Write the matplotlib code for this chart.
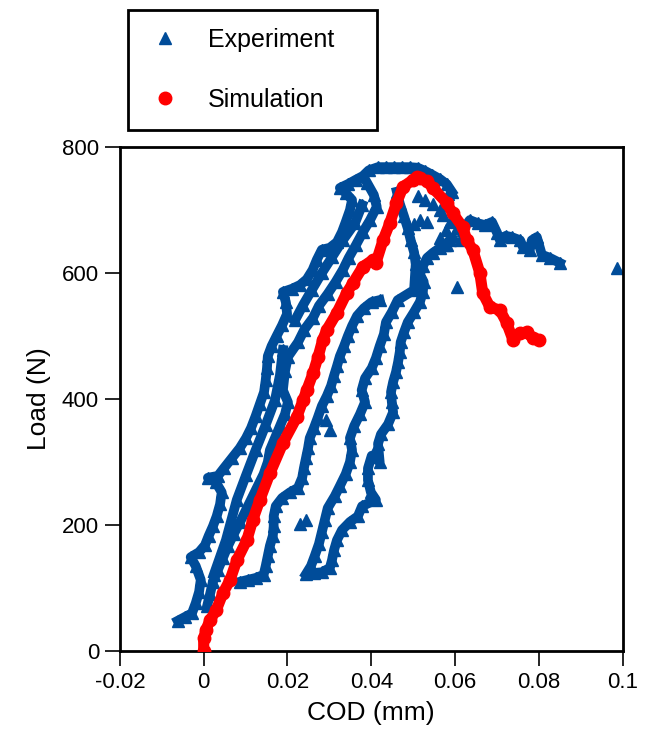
import matplotlib
matplotlib.use("Agg")
import matplotlib.pyplot as plt
from matplotlib.lines import Line2D
from matplotlib.patches import Rectangle

plt.rcParams['font.family'] = ['Liberation Sans', 'DejaVu Sans']

# experiment: branches of the cyclic load-COD record (COD in mm, load in N)
envelope_cod = [-0.0062, -0.0045, -0.0028, -0.0019, -0.0011, -0.0007, -0.0019, -0.0031, -0.0011, 0.0003,
                0.0012, 0.0022, 0.0031, 0.0039, 0.0043, 0.0029, 0.0010, 0.0034, 0.0048, 0.0067,
                0.0086, 0.0101, 0.0113, 0.0124, 0.0134, 0.0144, 0.0148, 0.0151, 0.0153, 0.0162,
                0.0174, 0.0187, 0.0199, 0.0196, 0.0189, 0.0211, 0.0230, 0.0246, 0.0260, 0.0270,
                0.0282, 0.0301, 0.0318, 0.0330, 0.0339, 0.0349, 0.0354, 0.0339, 0.0325, 0.0344,
                0.0363, 0.0380, 0.0394, 0.0416, 0.0435, 0.0454, 0.0473, 0.0492, 0.0511, 0.0528,
                0.0545, 0.0564, 0.0580, 0.0592]
envelope_load = [48, 54, 60, 76, 94, 113, 135, 149, 157, 168,
                 183, 198, 214, 233, 252, 268, 275, 278, 290, 306,
                 322, 338, 354, 373, 392, 411, 430, 449, 468, 484,
                 500, 517, 535, 554, 570, 575, 581, 590, 605, 621,
                 637, 640, 649, 665, 681, 700, 716, 727, 735, 741,
                 748, 754, 763, 768, 768, 768, 768, 768, 767, 762,
                 756, 749, 741, 729]

middle_cod = [0.0024, 0.0053, 0.0079, 0.0101, 0.0124, 0.0148, 0.0170, 0.0182, 0.0189]
middle_load = [121, 176, 240, 279, 319, 359, 398, 438, 478]

upper_cod = [0.0218, 0.0237, 0.0258, 0.0282, 0.0306, 0.0332, 0.0361, 0.0378]
upper_load = [525, 549, 573, 600, 625, 652, 679, 708]

inner_cod = [0.0390, 0.0406, 0.0413, 0.0397, 0.0380, 0.0363, 0.0346, 0.0332, 0.0315, 0.0296,
             0.0275, 0.0261, 0.0240, 0.0225, 0.0201, 0.0194, 0.0189, 0.0201, 0.0194, 0.0182,
             0.0170, 0.0158, 0.0153, 0.0143, 0.0129, 0.0115, 0.0101, 0.0087, 0.0072, 0.0058,
             0.0046, 0.0034, 0.0022, 0.0015, 0.0008]
inner_load = [743, 724, 705, 684, 665, 644, 624, 605, 586, 567,
              548, 529, 510, 490, 467, 444, 414, 395, 376, 357,
              338, 319, 300, 281, 262, 243, 224, 205, 186, 167,
              148, 129, 110, 90, 71]

reload_cod = [0.0087, 0.0105, 0.0124, 0.0143, 0.0148, 0.0153, 0.0158, 0.0165, 0.0167, 0.0167,
              0.0172, 0.0187, 0.0206, 0.0225, 0.0235, 0.0239, 0.0244, 0.0249, 0.0253, 0.0263,
              0.0272, 0.0282, 0.0294, 0.0304, 0.0311, 0.0318, 0.0325, 0.0335, 0.0344, 0.0354,
              0.0366, 0.0382, 0.0401, 0.0420]
reload_load = [110, 113, 116, 121, 135, 151, 167, 183, 198, 214,
               230, 243, 252, 259, 275, 290, 306, 322, 338, 354,
               370, 389, 405, 421, 437, 452, 468, 484, 500, 516,
               532, 544, 554, 557]

unload1_cod = [0.0461, 0.0468, 0.0478, 0.0487, 0.0494, 0.0502, 0.0506, 0.0502, 0.0463, 0.0449,
               0.0435, 0.0430, 0.0420, 0.0411, 0.0401, 0.0385, 0.0377, 0.0385, 0.0373, 0.0359,
               0.0349, 0.0354, 0.0349, 0.0339, 0.0325, 0.0313, 0.0296, 0.0289, 0.0282, 0.0275,
               0.0265, 0.0256, 0.0244]
unload1_load = [729, 710, 690, 671, 652, 633, 614, 573, 557, 538,
                522, 503, 484, 465, 449, 433, 414, 395, 376, 357,
                338, 319, 300, 281, 262, 246, 227, 208, 189, 170,
                151, 135, 122]

unload2_cod = [0.0587, 0.0575, 0.0564, 0.0547, 0.0533, 0.0523, 0.0516, 0.0525, 0.0523, 0.0516,
               0.0502, 0.0487, 0.0478, 0.0470, 0.0468, 0.0464, 0.0459, 0.0452, 0.0447, 0.0449,
               0.0452, 0.0440, 0.0423, 0.0416, 0.0420, 0.0401, 0.0392, 0.0392, 0.0399, 0.0411,
               0.0378, 0.0368, 0.0349, 0.0330, 0.0318, 0.0311, 0.0306, 0.0301, 0.0282, 0.0263]
unload2_load = [652, 644, 640, 632, 624, 611, 598, 586, 570, 554,
                538, 522, 506, 490, 475, 459, 443, 427, 411, 395,
                379, 360, 344, 329, 300, 310, 290, 271, 252, 240,
                230, 214, 205, 192, 176, 160, 144, 132, 125, 124]

tail_cod = [0.0618, 0.0635, 0.0654, 0.0671, 0.0688, 0.0700, 0.0707, 0.0721, 0.0735, 0.0755,
            0.0762, 0.0778, 0.0783, 0.0795, 0.0807, 0.0826, 0.0850]
tail_load = [668, 684, 679, 676, 681, 664, 652, 659, 657, 652,
             641, 636, 652, 657, 629, 624, 616]

scatter_cod = [0.0986, 0.0604, 0.0230, 0.0244, 0.0292, 0.0301, 0.0511, 0.0528, 0.0547, 0.0564,
               0.0502, 0.0516, 0.0533, 0.0571, 0.0587, 0.0604, 0.0578, 0.0594, 0.0611, 0.0564,
               0.0580, 0.0582, 0.0576]
scatter_load = [608, 578, 202, 208, 367, 351, 722, 716, 710, 700,
                678, 684, 681, 692, 681, 671, 668, 659, 652, 656,
                644, 725, 708]

# simulation
sim_cod = [0, 0, 0.0005, 0.0015, 0.0030, 0.0046, 0.0063, 0.0079, 0.0103, 0.0117,
           0.0134, 0.0158, 0.0189, 0.0222, 0.0237, 0.0246, 0.0261, 0.0273, 0.0284, 0.0294,
           0.0318, 0.0341, 0.0356, 0.0380, 0.0404, 0.0411, 0.0428, 0.0444, 0.0460, 0.0476,
           0.0500, 0.0508, 0.0516, 0.0532, 0.0547, 0.0580, 0.0594, 0.0618, 0.0628, 0.0642,
           0.0659, 0.0666, 0.0683, 0.0707, 0.0723, 0.0738, 0.0755, 0.0771, 0.0785, 0.0800]
sim_load = [0, 20, 33, 49, 65, 92, 113, 144, 176, 208,
            240, 282, 330, 371, 398, 414, 441, 467, 494, 510,
            537, 568, 584, 610, 621, 616, 652, 679, 711, 737,
            748, 752, 750, 746, 735, 711, 695, 673, 652, 637,
            600, 568, 546, 541, 521, 494, 505, 506, 497, 494]

blue = '#004C99'
red = '#FF0000'

fig = plt.figure(figsize=(6.48, 7.33), dpi=100)
ax = fig.add_axes([0.185, 0.1118, 0.776, 0.6877])

branches = [(envelope_cod, envelope_load), (middle_cod, middle_load), (upper_cod, upper_load),
            (inner_cod, inner_load), (reload_cod, reload_load), (unload1_cod, unload1_load),
            (unload2_cod, unload2_load), (tail_cod, tail_load)]
for bx, by in branches:
    ax.plot(bx, by, '-^', color=blue, lw=7, ms=8, zorder=2)
ax.plot(scatter_cod, scatter_load, '^', color=blue, ms=8, zorder=2)

ax.plot(sim_cod, sim_load, '-o', color=red, lw=8, ms=9, solid_capstyle='round',
        solid_joinstyle='round', zorder=3)

ax.set_xlim(-0.02, 0.1)
ax.set_ylim(0, 800)
ax.set_xticks([-0.02, 0, 0.02, 0.04, 0.06, 0.08, 0.1])
ax.set_xticklabels(['-0.02', '0', '0.02', '0.04', '0.06', '0.08', '0.1'])
ax.set_yticks([0, 200, 400, 600, 800])
ax.tick_params(direction='out', length=11, width=1.2, labelsize=16, pad=4)
for s in ax.spines.values():
    s.set_linewidth(2)
ax.set_xlabel('COD (mm)', fontsize=19, labelpad=6)
ax.set_ylabel('Load (N)', fontsize=19, labelpad=8)

# legend box above the axes
fig.add_artist(Rectangle((0.1975, 0.8226), 0.3845, 0.1638, transform=fig.transFigure,
                         fill=False, edgecolor='black', lw=2))
handles = [Line2D([], [], ls='none', marker='^', color=blue, ms=8),
           Line2D([], [], ls='none', marker='o', color=red, ms=9)]
fig.legend(handles, ['Experiment', 'Simulation'], loc='center left',
           bbox_to_anchor=(0.2357, 0.9045), frameon=False, fontsize=18,
           handlelength=1.0, handletextpad=1.2, labelspacing=1.45,
           borderpad=0, borderaxespad=0)

fig.savefig('out.png', dpi=100)
